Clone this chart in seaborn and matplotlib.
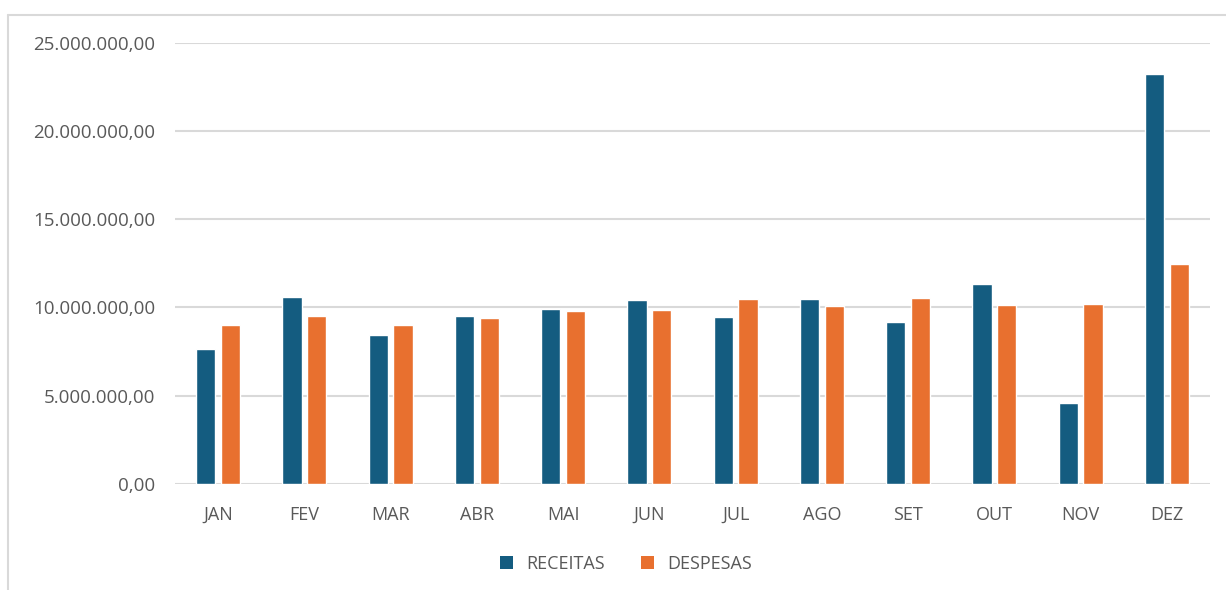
import matplotlib
matplotlib.use("Agg")
import matplotlib.pyplot as plt
import seaborn as sns
import pandas as pd
from matplotlib.ticker import FuncFormatter
from matplotlib.patches import Patch
from matplotlib.lines import Line2D

months = ["JAN", "FEV", "MAR", "ABR", "MAI", "JUN", "JUL", "AGO", "SET", "OUT", "NOV", "DEZ"]
receitas = [7.65e6, 10.6e6, 8.45e6, 9.52e6, 9.92e6, 10.4e6, 9.45e6, 10.45e6, 9.16e6, 11.3e6, 4.6e6, 23.2e6]
despesas = [8.98e6, 9.53e6, 8.98e6, 9.38e6, 9.77e6, 9.84e6, 10.45e6, 10.06e6, 10.52e6, 10.14e6, 10.19e6, 12.45e6]
series = ["RECEITAS", "DESPESAS"]
colors = ["#145c80", "#e8702f"]
yticks = [0, 5e6, 10e6, 15e6, 20e6, 25e6]

df = pd.DataFrame({
    "mes": months * 2,
    "serie": [series[0]] * len(months) + [series[1]] * len(months),
    "valor": receitas + despesas,
})

sns.set_theme(style="white")
plt.rcParams["font.family"] = ["Open Sans", "DejaVu Sans"]
text_color = "#595959"
grid_color = "#d9d9d9"

fig = plt.figure(figsize=(12.26, 5.90), dpi=100)
ax = fig.add_axes([175 / 1226, 1 - 484 / 590, (1210 - 175) / 1226, (484 - 42.5) / 590])

sns.barplot(data=df, x="mes", y="valor", hue="serie", order=months, hue_order=series,
            palette=colors, width=0.57, gap=0.22, saturation=1, ax=ax, legend=False)

ax.set_ylim(0, 25e6)
ax.set_xlim(-0.5, len(months) - 0.5)
ax.set_yticks(yticks)
ax.yaxis.set_major_formatter(FuncFormatter(
    lambda v, p: f"{v:,.2f}".replace(",", "X").replace(".", ",").replace("X", ".")))
ax.grid(axis="y", color=grid_color, linewidth=1.5)
ax.set_axisbelow(True)
for s in ax.spines.values():
    s.set_visible(False)
ax.tick_params(axis="both", length=0, labelsize=13.5, labelcolor=text_color)
ax.tick_params(axis="y", pad=14)
ax.tick_params(axis="x", labelsize=13, pad=16)
ax.set_xlabel("")
ax.set_ylabel("")

handles = [Patch(facecolor=c, edgecolor="none") for c in colors]
fig.legend(handles, series, loc="center", bbox_to_anchor=(626 / 1226, 1 - 564 / 590),
           ncol=2, frameon=False, fontsize=13, labelcolor=text_color,
           handlelength=0.7, handleheight=0.7, handletextpad=0.75, columnspacing=2.0)

# outer chart frame (top and left edges)
fig.add_artist(Line2D([8 / 1226, 1.0], [1 - 15 / 590, 1 - 15 / 590], transform=fig.transFigure,
                      color="#d9d9d9", linewidth=1.5))
fig.add_artist(Line2D([8 / 1226, 8 / 1226], [0, 1 - 15 / 590], transform=fig.transFigure,
                      color="#d9d9d9", linewidth=1.5))

fig.savefig("out.png", dpi=100, facecolor="white")
